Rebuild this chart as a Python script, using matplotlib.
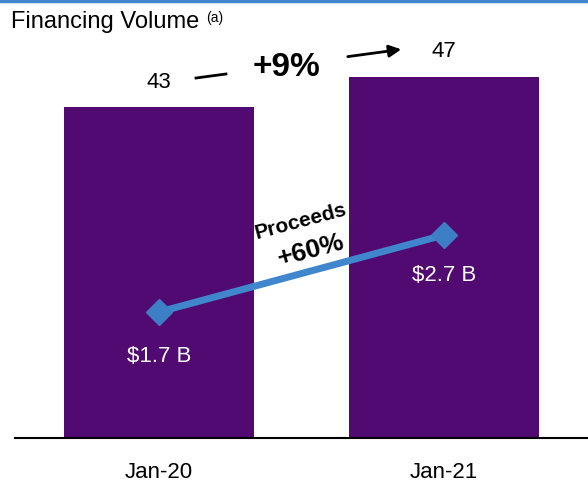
import matplotlib.pyplot as plt
from matplotlib.lines import Line2D
from matplotlib.patches import FancyArrowPatch

plt.rcParams['font.family'] = ['Liberation Sans', 'DejaVu Sans']

# data
periods = ['Jan-20', 'Jan-21']
volume = [43, 47]
proceeds = [1.7, 2.7]
proceeds_labels = ['$1.7 B', '$2.7 B']
purple = '#500a71'
blue = '#3f86cc'

W, H = 588, 491
fig = plt.figure(figsize=(W / 100, H / 100), dpi=100)

# axes: left 15px, right 588px, bottom 438px, top 20px
ax = fig.add_axes([15 / W, (H - 438) / H, (588 - 15) / W, (438 - 20) / H])
x = range(len(periods))
ax.bar(x, volume, width=0.667, color=purple)
ax.set_xlim(-0.505, 1.505)
ax.set_ylim(0, 418 / 7.69)
for s in ['top', 'right', 'left']:
    ax.spines[s].set_visible(False)
ax.spines['bottom'].set_linewidth(1.5)
ax.set_yticks([])
ax.set_xticks(list(x))
ax.set_xticklabels(periods, fontsize=16)
ax.tick_params(axis='x', length=0, pad=17)

for i, v in enumerate(volume):
    ax.text(i, v + 3.2, str(v), ha='center', va='center', fontsize=16)

# proceeds line on a second scale
ax2 = ax.twinx()
ax2.set_ylim(0.064, 0.064 + 418 / 77)
ax2.axis('off')
ax2.plot(list(x), proceeds, color=blue, lw=5, marker='D', markersize=13,
         markerfacecolor='#3d7fc4', markeredgecolor='#3d7fc4', solid_capstyle='butt')
# label offsets below the points (first one sits a little lower)
ax2.text(0, proceeds[0] - 0.58, proceeds_labels[0], color='white', ha='center', va='center', fontsize=16)
ax2.text(1, proceeds[1] - 0.52, proceeds_labels[1], color='white', ha='center', va='center', fontsize=16)

# annotations in figure pixels
def fx(px):
    return px / W

def fy(py):
    return 1 - py / H

fig.text(fx(11), fy(22), 'Financing Volume', fontsize=17, va='center', ha='left')
fig.text(fx(206), fy(18), '(a)', fontsize=10, va='center', ha='left')
fig.text(fx(286), fy(68), '+9%', fontsize=24, fontweight='bold', ha='center', va='center')
fig.add_artist(Line2D([fx(196), fx(226)], [fy(78), fy(74)], color='black', lw=2))
fig.add_artist(FancyArrowPatch(
    (fx(345), fy(57)), (fx(404), fy(49)), transform=fig.transFigure,
    arrowstyle='-|>', mutation_scale=18, color='black', lw=2))
fig.text(fx(301), fy(221), 'Proceeds', fontsize=15, fontweight='bold',
         rotation=15, ha='center', va='center')
fig.text(fx(311), fy(250), '+60%', fontsize=19, fontweight='bold',
         rotation=15, ha='center', va='center')

# thin blue rule at the top
fig.add_artist(Line2D([0, 1], [fy(1), fy(1)], color=blue, lw=2.5))

fig.savefig('out.png', dpi=100)
